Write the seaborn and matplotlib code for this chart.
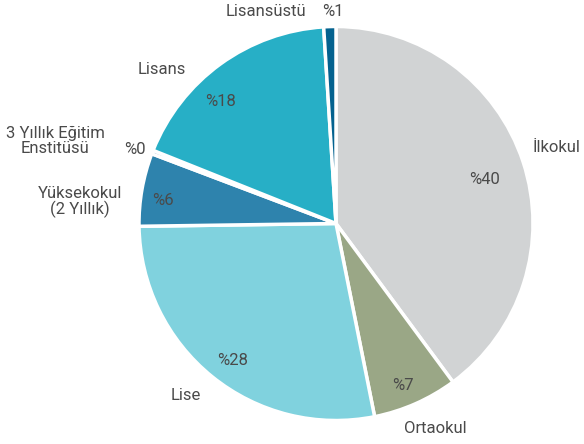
import matplotlib
matplotlib.use('Agg')
import matplotlib.pyplot as plt
import seaborn as sns

# Education level shares (%), clockwise from 12 o'clock
categories = ['İlkokul', 'Ortaokul', 'Lise', 'Yüksekokul\n(2 Yıllık)',
              '3 Yıllık Eğitim\nEnstitüsü', 'Lisans', 'Lisansüstü']
shares = [40, 7, 28, 6, 0.3, 18, 1]
pct_labels = ['%40', '%7', '%28', '%6', '%0', '%18', '%1']

colors = sns.color_palette(['#d1d3d4', '#9aa786', '#80d2de', '#2e83ad',
                            '#1a6f9f', '#27afc6', '#04628f'])

sns.set_theme(style='white')
plt.rcParams['font.family'] = ['Roboto', 'DejaVu Sans']

fig = plt.figure(figsize=(5.84, 4.44), dpi=100)
ax = fig.add_axes([0, 0, 1, 1])

ax.pie(shares, colors=colors, startangle=90, counterclock=False,
       wedgeprops=dict(edgecolor='white', linewidth=2.5))

# map pie so that center sits at (336, 223.5) px with radius ~197 px
r_px = 197
ax.set_xlim(-336 / r_px, (584 - 336) / r_px)
ax.set_ylim(-(444 - 223.5) / r_px, 223.5 / r_px)
ax.axis('off')

# label positions in pixels (x, y from top)
name_pos = [(557, 148), (435, 428), (186, 395), (80, 202),
            (55, 141), (162, 70), (266, 12)]
pct_pos = [(485, 179), (403, 385), (233, 360), (163, 200),
           (135, 150), (221, 101), (333, 12)]

txt_color = '#4a4a4a'
for name, (px, py) in zip(categories, name_pos):
    fig.text(px / 584, 1 - py / 444, name, ha='center', va='center',
             fontsize=12, color=txt_color, linespacing=1.0)
for lab, (px, py) in zip(pct_labels, pct_pos):
    fig.text(px / 584, 1 - py / 444, lab, ha='center', va='center',
             fontsize=12, color=txt_color)

fig.savefig('out.png', dpi=100, facecolor='white')
